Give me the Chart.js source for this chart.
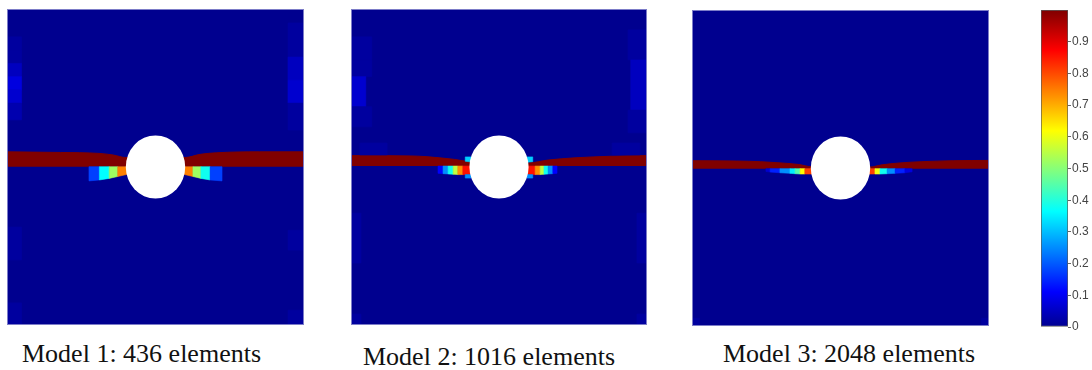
<!DOCTYPE html>
<html>
<head>
<meta charset="utf-8">
<title>Damage field - mesh comparison</title>
<script src="https://cdn.jsdelivr.net/npm/chart.js@4.4.1/dist/chart.umd.min.js"></script>
<style>
  html, body { margin: 0; padding: 0; background: #fff; }
  #wrap { position: relative; width: 1092px; height: 370px; overflow: hidden; }
  canvas { position: absolute; }
  .caption {
    position: absolute;
    font-family: "Liberation Serif", "Times New Roman", serif;
    font-size: 26px;
    line-height: 26px;
    color: #111;
    white-space: nowrap;
  }
</style>
</head>
<body>
<div id="wrap">
  <canvas id="model1" width="297" height="316" style="left:7px;top:9px"></canvas>
  <canvas id="model2" width="296" height="316" style="left:351px;top:9px"></canvas>
  <canvas id="model3" width="297" height="316" style="left:692px;top:10px"></canvas>
  <canvas id="colorbar" width="56" height="345" style="left:1036px;top:0px"></canvas>
  <div class="caption" style="left:22px;top:341px">Model 1: 436 elements</div>
  <div class="caption" style="left:363px;top:344px">Model 2: 1016 elements</div>
  <div class="caption" style="left:723px;top:341px">Model 3: 2048 elements</div>
</div>

<script>
/* DATA (mesh units, the plate is 100 x 100) */

const holeX = 50;
const holeY = 50;
const holeR = 10;

// top edge of the fully damaged band, the band sits on the crack line (base)
const band1X = [0, 18, 31, 35.7, 40, 60, 65, 70.6, 85, 100];
const band1Top = [54.8, 54.6, 54.3, 53.8, 53.0, 53.0, 54.0, 54.5, 54.8, 54.8];
const band1Base = 50.1;

const band2X = [0, 20, 25, 30, 35, 40, 60, 66.6, 75.7, 88, 100];
const band2Top = [53.6, 53.5, 53.3, 52.9, 52.4, 51.7, 51.3, 52.2, 52.9, 53.4, 53.6];
const band2Base = 50.3;

const band3X = [0, 15, 23, 30, 36, 40.3, 59.8, 64, 70, 77.4, 88, 100];
const band3Top = [52.3, 52.2, 52.0, 51.6, 51.1, 50.4, 50.3, 51.0, 51.6, 52.0, 52.3, 52.4];
const band3Base = 49.8;

// elements: [x0, x1, top, bottom at x0, bottom at x1, damage]
const model1Cells = [
  // faint elements along the edges
  [0, 4.9, 91.2, 87.0, 87.0, 0.02],
  [0, 4.9, 87.0, 82.8, 82.8, 0.03],
  [0, 4.9, 82.8, 78.6, 78.6, 0.05],
  [0, 4.9, 78.6, 74.4, 74.4, 0.08],
  [0, 4.9, 74.4, 70.2, 70.2, 0.07],
  [0, 4.9, 70.2, 64.9, 64.9, 0.04],
  [0, 4.9, 31.0, 20.6, 20.6, 0.02],
  [0, 4.9, 7.0, 0, 0, 0.03],
  [94.6, 100, 95.6, 84.8, 84.8, 0.02],
  [94.6, 100, 84.8, 77.5, 77.5, 0.05],
  [94.6, 100, 77.5, 70.2, 70.2, 0.07],
  [94.6, 100, 70.2, 61.7, 61.7, 0.03],
  [94.6, 100, 30.0, 23.7, 23.7, 0.02],
  [94.6, 100, 4.7, 0, 0, 0.03],
  // damage ahead of the hole
  [27.6, 31.1, 50.1, 45.6, 45.9, 0.18],
  [31.1, 34.4, 50.1, 45.9, 46.4, 0.36],
  [34.4, 37.3, 50.1, 46.4, 47.0, 0.52],
  [37.3, 40.6, 50.1, 47.0, 47.7, 0.74],
  [59.4, 62.6, 50.1, 47.7, 47.0, 0.74],
  [62.6, 65.3, 50.1, 47.0, 46.4, 0.52],
  [65.3, 68.4, 50.1, 46.4, 45.9, 0.38],
  [68.4, 72.4, 50.1, 45.9, 45.6, 0.18]
];

const model2Cells = [
  [0, 7, 91.2, 84.0, 84.0, 0.02],
  [0, 7, 84.0, 78.6, 78.6, 0.03],
  [0, 5, 78.6, 69.1, 69.1, 0.07],
  [0, 7, 69.1, 62.7, 62.7, 0.02],
  [93.6, 100, 93.4, 83.9, 83.9, 0.02],
  [94.5, 100, 83.9, 68.0, 68.0, 0.06],
  [93.6, 100, 68.0, 60.8, 60.8, 0.02],
  [3, 12.2, 57.6, 53.8, 53.8, 0.02],
  [88.2, 97.6, 57.6, 53.8, 53.8, 0.02],
  [0, 3.4, 35.4, 19.6, 19.6, 0.02],
  [96.6, 100, 35.4, 19.6, 19.6, 0.02],
  [0, 3.4, 3.5, 0, 0, 0.03],
  [96.6, 100, 3.5, 0, 0, 0.03],
  // damage ahead of the hole
  [29.4, 31.1, 50.3, 48.0, 47.9, 0.12],
  [31.1, 32.8, 50.3, 47.9, 47.8, 0.25],
  [32.8, 34.5, 50.3, 47.8, 47.7, 0.38],
  [34.5, 36.1, 50.3, 47.7, 47.6, 0.55],
  [36.1, 37.8, 50.3, 47.6, 47.6, 0.72],
  [37.8, 40.6, 50.3, 47.6, 47.6, 0.85],
  [38.6, 40.6, 53.2, 51.8, 51.6, 0.32],
  [38.6, 40.6, 47.6, 46.5, 46.5, 0.26],
  [59.4, 62.2, 50.3, 47.6, 47.6, 0.85],
  [62.2, 63.9, 50.3, 47.6, 47.6, 0.72],
  [63.9, 65.2, 50.3, 47.6, 47.7, 0.55],
  [65.2, 66.6, 50.3, 47.7, 47.8, 0.38],
  [66.6, 68.2, 50.3, 47.8, 47.9, 0.25],
  [68.2, 69.6, 50.3, 47.9, 48.0, 0.12],
  [59.4, 61.4, 53.2, 51.5, 51.7, 0.32],
  [59.4, 61.4, 47.6, 46.5, 46.5, 0.26]
];

const model3Cells = [
  [0, 2.5, 2.5, 0, 0, 0.03],
  [97.5, 100, 2.5, 0, 0, 0.03],
  // damage ahead of the hole
  [24.9, 26.3, 49.8, 48.9, 48.7, 0.07],
  [26.3, 29.6, 49.8, 48.7, 48.5, 0.15],
  [29.6, 33.0, 49.8, 48.5, 48.3, 0.25],
  [33.0, 34.7, 49.8, 48.3, 48.2, 0.35],
  [34.7, 36.4, 49.8, 48.2, 48.1, 0.45],
  [36.4, 38.0, 49.8, 48.1, 48.1, 0.62],
  [38.0, 40.6, 49.8, 48.1, 48.1, 0.80],
  [59.4, 61.6, 49.8, 48.1, 48.1, 0.80],
  [61.6, 63.3, 49.8, 48.1, 48.1, 0.60],
  [63.3, 65.7, 49.8, 48.1, 48.2, 0.38],
  [65.7, 68.4, 49.8, 48.2, 48.3, 0.25],
  [68.4, 71.7, 49.8, 48.3, 48.5, 0.15],
  [71.7, 74.1, 49.8, 48.5, 48.8, 0.08]
];

// colour bar
const barTicks = [0, 0.1, 0.2, 0.3, 0.4, 0.5, 0.6, 0.7, 0.8, 0.9];
const barLabels = ["0", "0.1", "0.2", "0.3", "0.4", "0.5", "0.6", "0.7", "0.8", "0.9"];


/* JET COLORMAP (64 levels, like matlab) */

function buildJet(m) {
  var n = Math.ceil(m / 4);
  var u = [];
  var i;
  for (i = 1; i <= n; i++) u.push(i / n);
  for (i = 1; i < n; i++) u.push(1);
  for (i = n; i >= 1; i--) u.push(i / n);
  var g0 = Math.ceil(n / 2) - (m % 4 === 1 ? 1 : 0);
  var map = [];
  for (i = 0; i < m; i++) map.push([0, 0, 0]);
  for (var k = 0; k < u.length; k++) {
    var gi = g0 + k, ri = gi + n, bi = gi - n;
    if (ri < m) map[ri][0] = u[k];
    if (gi < m) map[gi][1] = u[k];
    if (bi >= 0) map[bi][2] = u[k];
  }
  return map;
}

const jetMap = buildJet(64);

function rgb(c) {
  return "rgb(" + Math.round(c[0] * 255) + "," + Math.round(c[1] * 255) + "," + Math.round(c[2] * 255) + ")";
}

function jet(v) {
  var i = Math.floor(v * jetMap.length);
  i = Math.max(0, Math.min(jetMap.length - 1, i));
  return rgb(jetMap[i]);
}


/* PANELS */

// background, damaged elements and the hole, all placed through the chart scales
function meshLayer(cells) {
  return {
    id: "meshLayer",
    beforeDatasetsDraw: function (chart) {
      var a = chart.chartArea, ctx = chart.ctx;
      ctx.save();
      ctx.fillStyle = jet(0);
      ctx.fillRect(a.left, a.top, a.right - a.left, a.bottom - a.top);
      ctx.restore();
    },
    afterDatasetsDraw: function (chart) {
      var ctx = chart.ctx, sx = chart.scales.x, sy = chart.scales.y, a = chart.chartArea;
      ctx.save();
      cells.forEach(function (c) {
        var x0 = sx.getPixelForValue(c[0]);
        var x1 = sx.getPixelForValue(c[1]);
        ctx.beginPath();
        ctx.moveTo(x0, sy.getPixelForValue(c[2]));
        ctx.lineTo(x1, sy.getPixelForValue(c[2]));
        ctx.lineTo(x1, sy.getPixelForValue(c[4]));
        ctx.lineTo(x0, sy.getPixelForValue(c[3]));
        ctx.closePath();
        ctx.fillStyle = jet(c[5]);
        ctx.strokeStyle = jet(c[5]);
        ctx.lineWidth = 0.6;
        ctx.fill();
        ctx.stroke();
      });

      // the hole
      var cx = sx.getPixelForValue(holeX);
      var cy = sy.getPixelForValue(holeY);
      var rx = sx.getPixelForValue(holeX + holeR) - cx;
      var ry = cy - sy.getPixelForValue(holeY + holeR);
      ctx.beginPath();
      ctx.ellipse(cx, cy, rx, ry, 0, 0, Math.PI * 2);
      ctx.fillStyle = "#fff";
      ctx.fill();

      // plate outline
      ctx.strokeStyle = "#7c7cc8";
      ctx.lineWidth = 1;
      ctx.strokeRect(a.left + 0.5, a.top + 0.5, a.right - a.left - 1, a.bottom - a.top - 1);
      ctx.restore();
    }
  };
}

function makePanel(id, bandX, bandTop, bandBase, cells) {
  var points = [];
  for (var i = 0; i < bandX.length; i++) {
    points.push({ x: bandX[i], y: bandTop[i] });
  }

  new Chart(id, {
    type: "line",
    data: {
      datasets: [{
        data: points,
        fill: { value: bandBase },
        backgroundColor: jet(1),
        borderColor: jet(1),
        borderWidth: 1,
        pointRadius: 0,
        cubicInterpolationMode: "monotone"
      }]
    },
    options: {
      responsive: false,
      animation: false,
      events: [],
      layout: { padding: 0 },
      plugins: {
        legend: { display: false },
        tooltip: { enabled: false }
      },
      scales: {
        x: { type: "linear", min: 0, max: 100, display: false },
        y: { type: "linear", min: 0, max: 100, display: false }
      }
    },
    plugins: [meshLayer(cells)]
  });
}

makePanel("model1", band1X, band1Top, band1Base, model1Cells);
makePanel("model2", band2X, band2Top, band2Base, model2Cells);
makePanel("model3", band3X, band3Top, band3Base, model3Cells);


/* COLOUR BAR */

function barGradient(context) {
  var chart = context.chart;
  if (!chart.chartArea) return jet(0.5);
  var y = chart.scales.y;
  var g = chart.ctx.createLinearGradient(0, y.getPixelForValue(0), 0, y.getPixelForValue(1));
  for (var i = 0; i < jetMap.length; i++) {
    g.addColorStop(i / (jetMap.length - 1), rgb(jetMap[i]));
  }
  return g;
}

new Chart("colorbar", {
  type: "bar",
  data: {
    labels: [""],
    datasets: [{
      data: [[0, 1]],
      backgroundColor: barGradient,
      borderColor: "#5a5a5a",
      borderWidth: 1,
      borderSkipped: false,
      barPercentage: 1,
      categoryPercentage: 1
    }]
  },
  options: {
    responsive: false,
    animation: false,
    events: [],
    layout: { padding: { left: 5, top: 10, bottom: 18, right: 0 } },
    plugins: {
      legend: { display: false },
      tooltip: { enabled: false }
    },
    scales: {
      x: { display: false },
      y: {
        position: "right",
        min: 0,
        max: 1,
        afterBuildTicks: function (scale) {
          scale.ticks = barTicks.map(function (v) { return { value: v }; });
        },
        afterFit: function (scale) {
          scale.width = 24;
        },
        ticks: {
          color: "#444",
          padding: 1,
          font: { family: "Liberation Sans", size: 12 },
          callback: function (value, index) {
            return barLabels[index];
          }
        },
        grid: {
          drawOnChartArea: false,
          tickLength: 3,
          color: "#666"
        },
        border: { display: false }
      }
    }
  }
});
</script>
</body>
</html>
